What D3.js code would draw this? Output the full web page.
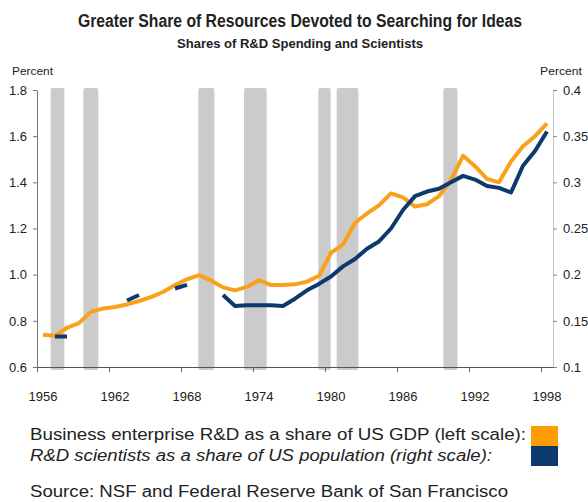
<!DOCTYPE html>
<html><head><meta charset="utf-8">
<script src="https://cdn.jsdelivr.net/npm/d3@7"></script>
<style>
html,body{margin:0;padding:0;background:#fff;}
svg text{font-family:"Liberation Sans",Arial,sans-serif;fill:#222;}
</style></head>
<body><svg id="c" width="588" height="502"></svg>
<script>
const years = d3.range(1956, 1999);
// Business enterprise R&D as share of GDP (left scale, percent)
const rdSpending = [0.74,0.735,0.77,0.79,0.84,0.853,0.86,0.871,0.886,0.903,0.925,0.955,0.98,0.998,0.975,0.945,0.932,0.947,0.976,0.955,0.955,0.958,0.97,0.995,1.095,1.13,1.225,1.265,1.30,1.352,1.335,1.295,1.305,1.34,1.41,1.515,1.47,1.415,1.40,1.49,1.556,1.60,1.655];
// R&D scientists as share of population (right scale, percent)
const rdScientists = [null,0.133,0.133,null,null,null,null,0.172,0.178,null,null,0.185,0.189,null,null,0.178,0.166,0.167,0.167,0.167,0.166,0.174,0.183,0.19,0.198,0.209,0.217,0.228,0.236,0.250,0.270,0.285,0.290,0.293,0.300,0.307,0.303,0.296,0.294,0.289,0.318,0.334,0.355];
// recession shading (fractional years)
const recessionStart = [1957.14,1959.86,1969.44,1973.25,1979.44,1980.97,1989.86];
const recessionEnd   = [1958.28,1961.11,1970.78,1975.14,1980.47,1982.78,1991.04];
const leftTicks = [0.6,0.8,1.0,1.2,1.4,1.6,1.8];
const rightTicks = [0.1,0.15,0.2,0.25,0.3,0.35,0.4];
const xTickYears = [1956,1962,1968,1974,1980,1986,1992,1998];

const svg = d3.select("#c");
const L = 37, R = 553, T = 90, B = 367;
const x = d3.scaleBand().domain(years).range([L, R]);
const xLin = d3.scaleLinear().domain([1956, 1999]).range([L, R]);
const yL = d3.scaleLinear().domain([0.6, 1.8]).range([B, T]);
const yR = d3.scaleLinear().domain([0.1, 0.4]).range([B, T]);
const cx = y => x(y) + x.bandwidth() / 2;

// titles
svg.append("text").attr("x", 300).attr("y", 27).attr("text-anchor", "middle")
  .attr("font-size", 18).attr("font-weight", "bold").attr("fill", "#1a1a1a")
  .attr("textLength", 444).attr("lengthAdjust", "spacingAndGlyphs")
  .text("Greater Share of Resources Devoted to Searching for Ideas");
svg.append("text").attr("x", 300).attr("y", 48).attr("text-anchor", "middle")
  .attr("font-size", 12).attr("font-weight", "bold").attr("textLength", 246).attr("lengthAdjust", "spacingAndGlyphs")
  .text("Shares of R&D Spending and Scientists");
svg.append("text").attr("x", 12).attr("y", 75).attr("font-size", 11)
  .attr("textLength", 41).attr("lengthAdjust", "spacingAndGlyphs").text("Percent");
svg.append("text").attr("x", 540).attr("y", 75).attr("font-size", 11)
  .attr("textLength", 42).attr("lengthAdjust", "spacingAndGlyphs").text("Percent");

// recession bars
svg.append("g").selectAll("rect").data(recessionStart).join("rect")
  .attr("x", (d, i) => xLin(d)).attr("width", (d, i) => xLin(recessionEnd[i]) - xLin(d))
  .attr("y", T - 2).attr("height", B - T + 5).attr("rx", 2)
  .attr("fill", "#cbcbcb");

// axes
const gl = svg.append("g").attr("transform", `translate(${L},0)`)
  .call(d3.axisLeft(yL).tickValues(leftTicks).tickFormat(d3.format(".1f")).tickSize(4).tickSizeOuter(0).tickPadding(6));
gl.select(".domain").attr("stroke", "#777");
gl.selectAll(".tick line").attr("stroke", "#777");
gl.selectAll("text").attr("font-size", 13).attr("font-family", "Liberation Sans, Arial, sans-serif").attr("fill", "#222");

const gr = svg.append("g").attr("transform", `translate(${R},0)`)
  .call(d3.axisRight(yR).tickValues(rightTicks).tickFormat(d => String(+d.toFixed(2))).tickSize(4).tickSizeOuter(0).tickPadding(6));
gr.select(".domain").attr("stroke", "#888").attr("stroke-dasharray", "1,1");
gr.selectAll(".tick line").attr("stroke", "#888");
gr.selectAll("text").attr("font-size", 13).attr("font-family", "Liberation Sans, Arial, sans-serif").attr("fill", "#222");

const gb = svg.append("g").attr("transform", `translate(0,${B})`)
  .call(d3.axisBottom(xLin).tickValues(xTickYears).tickFormat("").tickSize(5).tickSizeOuter(0));
gb.select(".domain").attr("stroke", "#555");
gb.selectAll(".tick line").attr("stroke", "#666");
const gbl = svg.append("g").attr("transform", `translate(0,${B})`)
  .call(d3.axisBottom(x).tickValues(xTickYears).tickSize(0).tickPadding(25));
gbl.select(".domain").remove();
gbl.selectAll("text").attr("font-size", 13).attr("font-family", "Liberation Sans, Arial, sans-serif").attr("fill", "#222");

// lines
const orange = "#f9a11b", navy = "#0d3a6c";
const lineL = d3.line().defined(d => d[1] != null).x(d => cx(d[0])).y(d => yL(d[1])).curve(d3.curveLinear);
const lineR = d3.line().defined(d => d[1] != null).x(d => cx(d[0])).y(d => yR(d[1])).curve(d3.curveLinear);
svg.append("path").datum(years.map((y, i) => [y, rdSpending[i]]))
  .attr("d", lineL).attr("fill", "none").attr("stroke", orange).attr("stroke-width", 4).attr("stroke-linejoin", "round");
svg.append("path").datum(years.map((y, i) => [y, rdScientists[i]]))
  .attr("d", lineR).attr("fill", "none").attr("stroke", navy).attr("stroke-width", 4).attr("stroke-linejoin", "round").attr("stroke-linecap", "butt");

// legend
svg.append("text").attr("x", 30).attr("y", 440).attr("font-size", 16)
  .attr("textLength", 496).attr("lengthAdjust", "spacingAndGlyphs")
  .text("Business enterprise R&D as a share of US GDP (left scale):");
svg.append("text").attr("x", 30).attr("y", 461).attr("font-size", 16).attr("font-style", "italic")
  .attr("textLength", 462).attr("lengthAdjust", "spacingAndGlyphs")
  .text("R&D scientists as a share of US population (right scale):");
svg.append("rect").attr("x", 531).attr("y", 426).attr("width", 27).attr("height", 20).attr("fill", "#fd9c05");
svg.append("rect").attr("x", 531).attr("y", 446).attr("width", 27).attr("height", 20).attr("fill", navy);
svg.append("text").attr("x", 30).attr("y", 497).attr("font-size", 16)
  .attr("textLength", 478).attr("lengthAdjust", "spacingAndGlyphs")
  .text("Source: NSF and Federal Reserve Bank of San Francisco");
</script></body></html>
